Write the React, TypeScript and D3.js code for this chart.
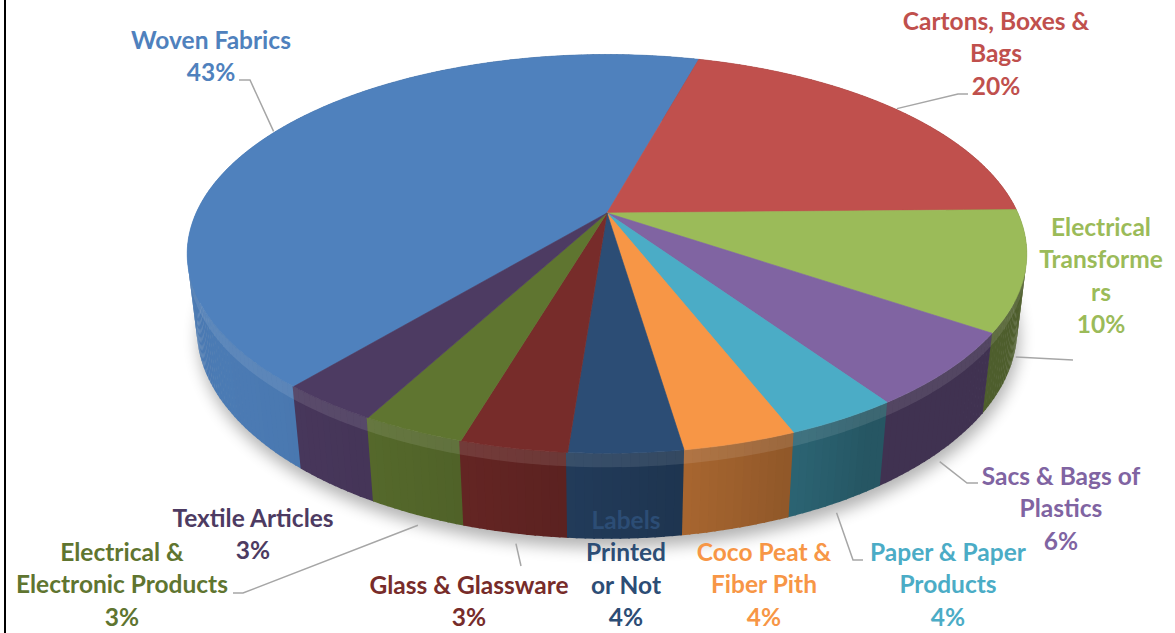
import React from "react";
import * as d3 from "d3";

// ---- data ----
const categories = [
  "Woven Fabrics",
  "Cartons, Boxes & Bags",
  "Electrical Transformers",
  "Sacs & Bags of Plastics",
  "Paper & Paper Products",
  "Coco Peat & Fiber Pith",
  "Labels Printed or Not",
  "Glass & Glassware",
  "Electrical & Electronic Products",
  "Textile Articles",
];
const shares = [43.2, 20.4, 9.7, 6.0, 3.6, 3.6, 3.6, 3.4, 3.3, 3.2];
const labelLines = [
  ["Woven Fabrics"],
  ["Cartons, Boxes &", "Bags"],
  ["Electrical", "Transforme", "rs"],
  ["Sacs & Bags of", "Plastics"],
  ["Paper & Paper", "Products"],
  ["Coco Peat &", "Fiber Pith"],
  ["Labels", "Printed", "or Not"],
  ["Glass & Glassware"],
  ["Electrical &", "Electronic Products"],
  ["Textile Articles"],
];
const palette = ["#4F81BD", "#C0504D", "#9BBB59", "#8064A2", "#4BACC6", "#F79646", "#2C4D75", "#772C2A", "#5F7530", "#4D3B62"];

// ---- layout ----
const W = 1175, HGT = 633;
const START = 220; // first slice angle (deg, clockwise from back)
const CX = 607, CY = 213, F = 1775, D = 4.32;
const PHI = (27.7 * Math.PI) / 180;
const S = Math.sin(PHI), C = Math.cos(PHI), THICK = 0.207;
const LINE_H = 32.5;

type Pt = [number, number];
function proj(thetaDeg: number, r: number, Y: number): Pt {
  const t = (thetaDeg * Math.PI) / 180;
  const X = r * Math.sin(t), Z = -r * Math.cos(t);
  const depth = D - (Y * S + Z * C);
  return [CX + (X / depth) * F, CY + ((Z * S - Y * C) / depth) * F];
}

const labelLayout = [
  { x: 211, y: 40, leader: [[250, 80], [239, 80]], edge: "top" },
  { x: 996, y: 21, leader: [[958, 94], [968, 94]], edge: "top" },
  { x: 1101, y: 227, leader: [[1073, 360]], edge: "bottom" },
  { x: 1061, y: 476, leader: [[967, 483], [978, 483]], edge: "bottom" },
  { x: 948, y: 552, leader: [[853, 560], [863, 560]], edge: "bottom" },
  { x: 764, y: 552, leader: null, edge: "" },
  { x: 626, y: 520, leader: null, edge: "" },
  { x: 469, y: 585, leader: [[521, 566]], edge: "bottom" },
  { x: 122, y: 552, leader: [[243, 593], [233, 593]], edge: "bottom" },
  { x: 253, y: 518, leader: null, edge: "" },
];

export default function App() {
  const pie = d3
    .pie<number>()
    .sort(null)
    .value((d) => d)
    .startAngle((START * Math.PI) / 180)
    .endAngle(((START + 360) * Math.PI) / 180);
  const arcs = pie(shares);
  const deg = (r: number) => (r * 180) / Math.PI;
  const line = d3.line();
  const pct = d3.format(".0%");

  // side quads
  const quads: { d: string; hl: string; fill: string; z: number }[] = [];
  arcs.forEach((a, i) => {
    const a0 = deg(a.startAngle), a1 = deg(a.endAngle);
    const n = Math.max(1, Math.ceil(a1 - a0));
    for (let k = 0; k < n; k++) {
      const t0 = a0 + ((a1 - a0) * k) / n;
      const t1 = a0 + ((a1 - a0) * (k + 1)) / n;
      const tm = ((t0 + t1) / 2) * Math.PI / 180;
      const z = -Math.cos(tm);
      const dot = -0.85 * Math.sin(tm) - 0.53 * Math.cos(tm);
      const kf = 0.5 + 0.45 * Math.max(0, dot);
      const fill = d3.interpolateRgb("#000000", palette[i])(kf);
      const t1b = t1 + 0.2;
      const pts: Pt[] = [proj(t0, 1, 0), proj(t1b, 1, 0), proj(t1b, 1, -THICK), proj(t0, 1, -THICK)];
      const hl: Pt[] = [proj(t0, 1, 0), proj(t1b, 1, 0), proj(t1b, 1, -THICK * 0.16), proj(t0, 1, -THICK * 0.16)];
      quads.push({ d: line(pts) + "Z", hl: line(hl) + "Z", fill, z });
    }
  });
  quads.sort((p, q) => p.z - q.z);

  // top slices
  const tops = arcs.map((a, i) => {
    const a0 = deg(a.startAngle), a1 = deg(a.endAngle);
    const n = Math.max(2, Math.ceil((a1 - a0) * 2));
    const pts: Pt[] = [[CX, CY]];
    for (let k = 0; k <= n; k++) pts.push(proj(a0 + ((a1 - a0) * k) / n, 1, 0));
    return { d: line(pts) + "Z", fill: palette[i] };
  });

  // shadow outline (bottom ellipse)
  const bottomPts: Pt[] = d3.range(0, 361, 2).map((t) => proj(t, 1, -THICK));
  const shadowD = line(bottomPts) + "Z";

  return (
    <svg width={W} height={HGT} style={{ position: "absolute", left: 0, top: 0, background: "#fff" }}
      fontFamily="Lato, 'Open Sans', sans-serif" fontWeight="bold">
      <defs>
        <filter id="blur" x="-20%" y="-20%" width="140%" height="140%">
          <feGaussianBlur stdDeviation="8" />
        </filter>
      </defs>
      <rect x={0} y={0} width={W} height={HGT} fill="#fff" />
      <line x1={5} y1={0} x2={5} y2={HGT} stroke="#000" strokeWidth={2} />
      <path d={shadowD} transform="translate(2,9)" fill="#000" opacity={0.3} filter="url(#blur)" />
      <g>
        {quads.map((q, i) => (
          <g key={i}>
            <path d={q.d} fill={q.fill} />
            <path d={q.hl} fill="#fff" fillOpacity={0.1} />
          </g>
        ))}
      </g>
      <g>
        {tops.map((t, i) => (
          <path key={i} d={t.d} fill={t.fill} stroke={t.fill} strokeWidth={0.6} />
        ))}
      </g>
      <g>
        {arcs.map((a, i) => {
          const L = labelLayout[i];
          if (!L.leader) return null;
          const mid = deg((a.startAngle + a.endAngle) / 2);
          let anchor: Pt;
          if (L.edge === "top") anchor = proj(mid, 1.005, 0);
          else {
            const p = proj(mid, 1.0, -THICK);
            anchor = [p[0], p[1] + 10];
          }
          const pts: Pt[] = [anchor, ...(L.leader as Pt[])];
          return <path key={i} d={line(pts) || ""} fill="none" stroke="#A6A6A6" strokeWidth={1.5} />;
        })}
      </g>
      <g fontSize={24.5} textAnchor="middle">
        {categories.map((c, i) => {
          const L = labelLayout[i];
          const lines = [...labelLines[i], pct(shares[i] / 100)];
          return (
            <text key={c} fill={palette[i]}>
              {lines.map((ln, j) => (
                <tspan key={j} x={L.x} y={L.y + j * LINE_H + 8.5}>{ln}</tspan>
              ))}
            </text>
          );
        })}
      </g>
    </svg>
  );
}
